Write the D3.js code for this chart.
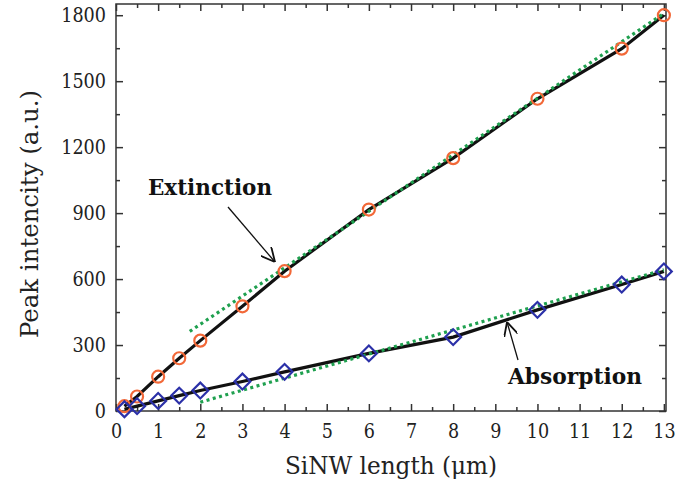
<!DOCTYPE html>
<html><head><meta charset="utf-8">
<script src="https://cdn.jsdelivr.net/npm/d3@7"></script>
<style>body{margin:0;background:#fff}svg{display:block}</style>
</head><body><svg id="c" width="697" height="494"></svg>
<script>
const lengths = [0.2, 0.5, 1, 1.5, 2, 3, 4, 6, 8, 10, 12, 13];
const extinction = [22, 66, 156, 240, 320, 476, 636, 916, 1150, 1420, 1648, 1800];
const absorption = [8, 22, 46, 70, 93, 134, 178, 262, 336, 460, 575, 635];
const extFitX = [1.75, 13];
const extFitY = [362, 1808];
const absFitX = [2, 13];
const absFitY = [40, 642];
const xTicks = [0,1,2,3,4,5,6,7,8,9,10,11,12,13];
const yTicks = [0,300,600,900,1200,1500,1800];

const svg = d3.select("#c");
const L = 116, R = 666, T = 4, B = 411;
const x = d3.scaleLinear().domain([0, 13.05]).range([L, R]);
const y = d3.scaleLinear().domain([0, 1851]).range([B, T]);
const FF = "DejaVu Serif";

svg.append("rect").attr("x", L).attr("y", T).attr("width", R - L).attr("height", B - T)
  .attr("fill", "none").attr("stroke", "#333").attr("stroke-width", 1.5);

const xMinor = d3.range(0.5, 13, 1);
const yMinor = d3.range(150, 1851, 300);
const tk = (g) => g.select(".domain").remove();
const ln = g => g.selectAll("line").attr("stroke", "#333").attr("stroke-width", 1.5);
const tx = g => g.selectAll("text").style("font-family", FF).attr("font-size", 19.5).attr("fill", "#222")
  .attr("textLength", d => String(d).length * 11.2).attr("lengthAdjust", "spacingAndGlyphs");

svg.append("g").attr("transform", `translate(0,${B})`)
  .call(d3.axisBottom(x).tickValues(xTicks).tickSize(-7).tickPadding(13).tickFormat(d3.format("d")))
  .call(tk).call(tx).call(ln);
svg.append("g").attr("transform", `translate(0,${B})`)
  .call(d3.axisBottom(x).tickValues(xMinor).tickSize(-4).tickFormat("")).call(tk).call(ln);
svg.append("g").attr("transform", `translate(0,${T})`)
  .call(d3.axisTop(x).tickValues(xTicks).tickSize(-7).tickFormat("")).call(tk).call(ln);
svg.append("g").attr("transform", `translate(0,${T})`)
  .call(d3.axisTop(x).tickValues(xMinor).tickSize(-4).tickFormat("")).call(tk).call(ln);
svg.append("g").attr("transform", `translate(${L},0)`)
  .call(d3.axisLeft(y).tickValues(yTicks).tickSize(-7).tickPadding(10).tickFormat(d3.format("d")))
  .call(tk).call(tx).call(ln);
svg.append("g").attr("transform", `translate(${L},0)`)
  .call(d3.axisLeft(y).tickValues(yMinor).tickSize(-4).tickFormat("")).call(tk).call(ln);
svg.append("g").attr("transform", `translate(${R},0)`)
  .call(d3.axisRight(y).tickValues(yTicks).tickSize(-7).tickFormat("")).call(tk).call(ln);
svg.append("g").attr("transform", `translate(${R},0)`)
  .call(d3.axisRight(y).tickValues(yMinor).tickSize(-4).tickFormat("")).call(tk).call(ln);

const line = d3.line().x(d => x(d[0])).y(d => y(d[1]));
const extPts = lengths.map((l, i) => [l, extinction[i]]);
const absPts = lengths.map((l, i) => [l, absorption[i]]);
svg.append("path").attr("d", line(extPts)).attr("fill", "none").attr("stroke", "#111").attr("stroke-width", 3.2);
svg.append("path").attr("d", line(absPts)).attr("fill", "none").attr("stroke", "#111").attr("stroke-width", 3.2);

const fit = (xs, ys) => xs.map((v, i) => [v, ys[i]]);
svg.append("path").attr("d", line(fit(extFitX, extFitY))).attr("fill", "none")
  .attr("stroke", "#1fa04f").attr("stroke-width", 3.2).attr("stroke-dasharray", "3,3.5");
svg.append("path").attr("d", line(fit(absFitX, absFitY))).attr("fill", "none")
  .attr("stroke", "#1fa04f").attr("stroke-width", 3.2).attr("stroke-dasharray", "3,3.5");

svg.selectAll(".ext").data(extPts).join("circle")
  .attr("cx", d => x(d[0])).attr("cy", d => y(d[1])).attr("r", 6)
  .attr("fill", "none").attr("stroke", "#f26838").attr("stroke-width", 2.2);
const dia = d3.symbol().type(d3.symbolSquare).size(125);
svg.selectAll(".abs").data(absPts).join("path")
  .attr("d", dia).attr("transform", d => `translate(${x(d[0])},${y(d[1])}) rotate(45)`)
  .attr("fill", "none").attr("stroke", "#2b30a8").attr("stroke-width", 2.2);

svg.append("text").attr("x", 148).attr("y", 195).text("Extinction").style("font-family", FF)
  .attr("font-weight", "bold").attr("font-size", 22).attr("fill", "#111")
  .attr("textLength", 124).attr("lengthAdjust", "spacingAndGlyphs");
svg.append("text").attr("x", 508).attr("y", 384).text("Absorption").style("font-family", FF)
  .attr("font-weight", "bold").attr("font-size", 22).attr("fill", "#111")
  .attr("textLength", 134).attr("lengthAdjust", "spacingAndGlyphs");

svg.append("defs").append("marker").attr("id", "ah").attr("viewBox", "0 0 10 10")
  .attr("refX", 10).attr("refY", 5).attr("markerWidth", 14).attr("markerHeight", 14)
  .attr("markerUnits", "userSpaceOnUse").attr("orient", "auto")
  .append("path").attr("d", "M0,0 L10,5 L0,10").attr("fill", "none").attr("stroke", "#111").attr("stroke-width", 1.3);
svg.append("line").attr("x1", 228).attr("y1", 207).attr("x2", 275).attr("y2", 262)
  .attr("stroke", "#111").attr("stroke-width", 1.3).attr("marker-end", "url(#ah)");
svg.append("line").attr("x1", 518).attr("y1", 360).attr("x2", 507).attr("y2", 322)
  .attr("stroke", "#111").attr("stroke-width", 1.3).attr("marker-end", "url(#ah)");

svg.append("text").attr("x", 391).attr("y", 474).attr("text-anchor", "middle").style("font-family", FF)
  .attr("font-size", 24).attr("fill", "#222").text("SiNW length (μm)")
  .attr("textLength", 212).attr("lengthAdjust", "spacingAndGlyphs");
svg.append("text").attr("transform", "translate(38,214) rotate(-90)").attr("text-anchor", "middle").style("font-family", FF)
  .attr("font-size", 25).attr("fill", "#222").text("Peak intencity (a.u.)")
  .attr("textLength", 248).attr("lengthAdjust", "spacingAndGlyphs");
</script></body></html>
